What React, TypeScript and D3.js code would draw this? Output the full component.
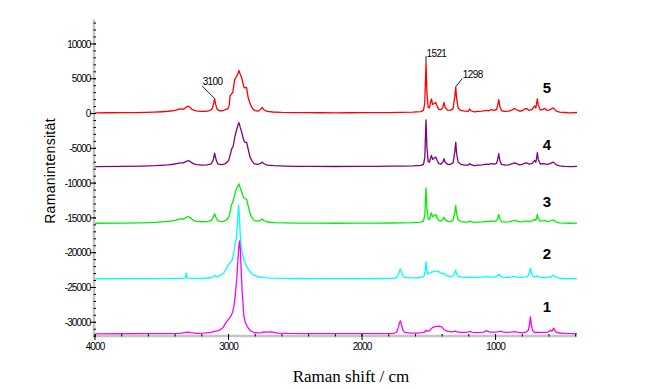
import React from 'react';
import * as d3 from 'd3';

const W = 651;
const H = 389;

const xTicksMajor = [4000, 3000, 2000, 1000];
const yTicksMajor = [-30000, -25000, -20000, -15000, -10000, -5000, 0, 5000, 10000];
const seriesNames = ['5', '4', '3', '2', '1'];
const seriesColors = ['#ff0000', '#800080', '#00f000', '#00ffff', '#ff00ff'];
const seriesOffsets = [0, -7700, -15850, -23800, -31700];

const s5: [number, number][] = [[4000,100],[3900,110],[3800,120],[3700,140],[3620,160],[3560,200],[3500,260],[3450,330],[3400,450],[3370,620],[3355,680],[3340,600],[3325,780],[3312,980],[3302,1050],[3290,900],[3270,550],[3245,380],[3210,300],[3170,320],[3140,420],[3122,700],[3112,1400],[3104,2100],[3096,1300],[3085,600],[3065,380],[3045,400],[3025,550],[3005,700],[2995,1200],[2988,2550],[2975,2900],[2968,3000],[2955,4800],[2939,5400],[2930,5700],[2922,6200],[2912,5600],[2902,5200],[2890,4200],[2883,3700],[2865,3750],[2853,2300],[2840,1500],[2832,1100],[2815,600],[2800,420],[2780,350],[2762,550],[2748,880],[2736,550],[2710,300],[2670,220],[2600,160],[2500,130],[2400,120],[2300,110],[2200,100],[2100,110],[2000,120],[1900,130],[1800,140],[1720,160],[1620,200],[1560,280],[1540,450],[1530,1500],[1521,7300],[1514,3000],[1505,900],[1495,800],[1486,1700],[1480,2100],[1472,1300],[1460,1450],[1448,1600],[1438,1100],[1425,600],[1408,550],[1395,900],[1386,1600],[1378,900],[1360,500],[1340,450],[1318,700],[1305,2500],[1298,3800],[1292,2200],[1280,800],[1260,450],[1230,350],[1205,300],[1195,650],[1185,400],[1160,250],[1130,300],[1100,350],[1070,450],[1050,400],[1031,550],[1010,450],[992,600],[982,1400],[976,2000],[968,1000],[955,400],[930,300],[900,350],[880,500],[858,700],[842,550],[820,350],[800,400],[780,650],[765,700],[750,450],[725,600],[708,1100],[698,800],[692,1500],[687,2100],[680,1200],[665,500],[645,600],[632,750],[615,450],[590,550],[572,800],[562,700],[545,350],[520,200],[480,150],[440,100],[390,150]];

const s4: [number, number][] = [[4000,80],[3800,100],[3650,140],[3550,200],[3450,320],[3400,450],[3360,600],[3340,620],[3320,800],[3302,950],[3288,820],[3265,500],[3240,350],[3200,300],[3160,330],[3130,450],[3115,1000],[3104,2000],[3095,1200],[3082,500],[3060,350],[3040,380],[3020,550],[3000,900],[2988,1700],[2977,2590],[2965,3000],[2952,4400],[2940,5300],[2930,6000],[2922,6400],[2912,5700],[2902,5100],[2890,4100],[2880,3600],[2864,3540],[2852,2500],[2840,1520],[2825,900],[2808,500],[2785,380],[2762,500],[2748,720],[2735,480],[2710,280],[2660,200],[2580,150],[2480,120],[2350,100],[2200,90],[2050,100],[1900,110],[1780,130],[1700,150],[1620,180],[1560,250],[1540,400],[1530,1400],[1521,6800],[1514,2800],[1505,800],[1495,700],[1486,1400],[1480,1680],[1472,1100],[1460,1300],[1448,1440],[1438,950],[1425,500],[1408,450],[1395,750],[1386,1200],[1378,700],[1360,400],[1340,380],[1318,600],[1305,2300],[1298,3600],[1292,2000],[1280,700],[1260,400],[1230,300],[1205,280],[1195,500],[1185,350],[1160,220],[1130,280],[1100,320],[1070,420],[1050,380],[1031,500],[1010,420],[992,550],[982,1300],[976,1930],[968,950],[955,380],[930,280],[900,330],[880,450],[858,600],[842,500],[820,330],[800,380],[780,580],[765,600],[750,420],[725,550],[708,960],[698,700],[692,1400],[687,2070],[680,1100],[665,450],[645,500],[632,450],[615,380],[590,500],[572,700],[562,650],[545,320],[520,180],[480,120],[440,80],[390,100]];

const s3: [number, number][] = [[4000,80],[3800,100],[3650,150],[3550,220],[3450,350],[3400,500],[3360,700],[3340,680],[3320,900],[3302,1050],[3288,900],[3265,520],[3240,350],[3200,300],[3160,320],[3130,450],[3115,900],[3104,1440],[3095,950],[3082,450],[3060,330],[3040,360],[3020,500],[3000,850],[2990,1500],[2980,2630],[2965,3300],[2947,4700],[2935,5300],[2922,5750],[2912,5100],[2900,4500],[2888,3800],[2875,3600],[2864,3550],[2852,2500],[2840,1540],[2825,900],[2808,500],[2785,380],[2762,480],[2748,680],[2735,450],[2710,260],[2660,180],[2580,140],[2480,110],[2350,90],[2200,80],[2050,90],[1900,100],[1780,120],[1700,140],[1620,170],[1560,230],[1540,380],[1530,1200],[1521,5170],[1514,2200],[1505,700],[1495,650],[1486,1300],[1480,1580],[1472,1000],[1460,1200],[1448,1350],[1438,850],[1425,450],[1408,400],[1395,650],[1386,960],[1378,600],[1360,350],[1340,330],[1318,500],[1305,1700],[1298,2650],[1292,1500],[1280,550],[1260,330],[1230,260],[1205,250],[1195,400],[1185,300],[1160,200],[1130,250],[1100,280],[1070,350],[1050,320],[1031,420],[1010,350],[992,450],[982,900],[976,1350],[968,700],[955,330],[930,250],[900,280],[880,380],[858,500],[842,420],[820,280],[800,300],[780,380],[765,400],[750,320],[725,420],[708,600],[698,500],[692,900],[687,1350],[680,750],[665,380],[645,420],[632,500],[615,330],[590,420],[572,550],[562,500],[545,260],[520,150],[480,100],[440,80],[390,90]];

const s2: [number, number][] = [[4000,60],[3800,70],[3600,80],[3450,100],[3350,120],[3325,150],[3320,400],[3317,900],[3313,350],[3305,140],[3250,120],[3180,130],[3130,200],[3115,350],[3104,580],[3094,350],[3080,380],[3060,550],[3040,800],[3025,1200],[3010,1770],[2995,2200],[2983,2500],[2972,2730],[2960,3900],[2948,5200],[2939,6300],[2932,8500],[2924,10630],[2916,7800],[2909,5300],[2897,3800],[2885,2730],[2865,1800],[2847,1290],[2828,850],[2810,570],[2780,350],[2760,260],[2748,280],[2730,220],[2680,150],[2600,110],[2450,90],[2300,80],[2150,75],[2000,80],[1900,90],[1800,100],[1760,130],[1740,250],[1727,700],[1718,1250],[1712,1440],[1705,1100],[1695,500],[1680,250],[1640,180],[1590,200],[1550,280],[1535,500],[1527,1200],[1521,2530],[1515,1300],[1508,750],[1495,850],[1480,1000],[1465,1080],[1448,1150],[1433,1150],[1418,950],[1400,750],[1386,800],[1375,650],[1360,450],[1340,380],[1320,420],[1308,800],[1300,1300],[1292,750],[1280,380],[1250,300],[1220,260],[1195,300],[1170,240],[1130,250],[1100,280],[1068,350],[1040,280],[1010,300],[990,400],[980,620],[976,720],[970,550],[955,330],[930,250],[900,260],[880,330],[864,400],[845,330],[820,260],[790,280],[765,340],[752,600],[745,1100],[739,1580],[733,1100],[725,500],[712,300],[700,380],[690,420],[686,480],[680,350],[660,250],[630,230],[600,280],[580,400],[570,520],[564,580],[556,400],[540,220],[510,120],[470,90],[430,80],[390,80]];

const s1: [number, number][] = [[4000,40],[3800,50],[3600,60],[3450,80],[3360,120],[3320,250],[3302,300],[3285,200],[3240,120],[3180,150],[3130,250],[3104,400],[3085,450],[3060,650],[3040,950],[3022,1580],[3005,2000],[2984,2540],[2970,3100],[2960,3960],[2950,5500],[2939,7750],[2930,10500],[2922,12800],[2917,13400],[2911,12000],[2904,8500],[2897,5900],[2885,2540],[2872,1600],[2860,1100],[2840,550],[2810,230],[2780,180],[2750,220],[2735,320],[2710,300],[2680,320],[2660,250],[2630,150],[2560,100],[2450,80],[2300,70],[2150,60],[2000,60],[1900,70],[1800,80],[1760,120],[1740,300],[1728,1000],[1719,1700],[1712,1900],[1705,1400],[1695,600],[1680,250],[1640,150],[1590,150],[1550,200],[1530,300],[1524,500],[1521,580],[1517,450],[1505,400],[1490,600],[1475,900],[1460,1050],[1440,1100],[1420,1150],[1405,1050],[1390,750],[1375,500],[1355,380],[1330,330],[1310,380],[1300,430],[1290,330],[1260,270],[1230,260],[1205,300],[1193,400],[1180,300],[1150,220],[1120,250],[1090,300],[1075,400],[1068,530],[1060,400],[1040,280],[1010,300],[985,330],[970,380],[960,420],[950,320],[920,250],[890,280],[870,330],[856,350],[840,300],[810,220],[790,230],[770,300],[755,550],[747,1200],[742,2000],[739,2490],[735,1900],[730,1100],[722,500],[710,260],[690,230],[660,240],[630,260],[610,280],[595,450],[589,580],[583,430],[575,500],[568,750],[564,860],[558,600],[548,300],[520,160],[480,100],[430,70],[390,60]];

const seriesData = [s5, s4, s3, s2, s1];

const annLabels = ['3100', '1521', '1298'];
const annWn = [3104, 1521, 1298];
const annVal = [2100, 7300, 3800];

// styling: leader line vector (px) from peak, and series label offsets
const annDx = [-12.5, 0, 6.5];
const annDy = [-12.5, -6, -8];
const labelLift = [26, 23, 22.5, 25.5, 27.5];

const x = d3.scaleLinear().domain([4000, 390]).range([95, 577]);
const y = d3.scaleLinear().domain([-32000, 13500]).range([336.2, 19.6]);

const xMinor = d3.range(4000, 389, -200);
const yMinor = d3.range(-32000, 13501, 1000);

const tickFont = '"Liberation Sans", Arial, sans-serif';

export default function App() {
  const lines = seriesData.map((data, i) =>
    d3
      .line<[number, number]>()
      .x((d) => x(d[0]))
      .y((d) => y(d[1] + seriesOffsets[i]))(data) as string
  );
  const ax = 94;
  const ay = 336;
  return (
    <svg
      width={W}
      height={H}
      style={{ position: 'absolute', left: 0, top: 0, background: '#fff' }}
    >
      <rect x={0} y={0} width={W} height={H} fill="#fff" />
      {lines.map((p, i) => (
        <path key={i} d={p} fill="none" stroke={seriesColors[i]} strokeWidth={1.3} strokeLinejoin="round" />
      ))}
      {/* axes */}
      <line x1={ax} y1={y(13500)} x2={ax} y2={ay + 1.5} stroke="#c4c4c4" strokeWidth={2.5} />
      <line x1={ax - 1} y1={ay} x2={577} y2={ay} stroke="#c4c4c4" strokeWidth={2.5} />
      {yMinor.map((v) => (
        <line key={'ym' + v} x1={ax - 0.5} x2={ax + 2} y1={y(v)} y2={y(v)} stroke="#000" strokeWidth={1} />
      ))}
      {yTicksMajor.map((v) => (
        <g key={'y' + v}>
          <line x1={ax - 4} x2={ax + 2} y1={y(v)} y2={y(v)} stroke="#000" strokeWidth={1} />
          <text
            x={ax - 3.5}
            y={y(v) + 3.6}
            textAnchor="end"
            fontFamily={tickFont}
            fontSize={10}
            letterSpacing={-0.9}
            fill="#000"
          >
            {v}
          </text>
        </g>
      ))}
      {xMinor.map((v) => (
        <line key={'xm' + v} x1={x(v)} x2={x(v)} y1={ay - 2} y2={ay + 0.5} stroke="#000" strokeWidth={1} />
      ))}
      {xTicksMajor.map((v) => (
        <g key={'x' + v}>
          <line x1={x(v)} x2={x(v)} y1={ay - 2} y2={ay + 4} stroke="#000" strokeWidth={1} />
          <text
            x={x(v)}
            y={349.5}
            textAnchor="middle"
            fontFamily={tickFont}
            fontSize={10}
            letterSpacing={-0.9}
            fill="#000"
          >
            {v}
          </text>
        </g>
      ))}
      {/* axis titles */}
      <text
        transform={`translate(55,171) rotate(-90)`}
        textAnchor="middle"
        fontFamily={tickFont}
        fontSize={14}
        letterSpacing={0.3}
        fill="#000"
      >
        Ramanintensität
      </text>
      <text
        x={351}
        y={382}
        textAnchor="middle"
        fontFamily='"Liberation Serif", "Times New Roman", serif'
        fontSize={17}
        fill="#000"
      >
        Raman shift / cm
      </text>
      {/* annotations */}
      {annLabels.map((t, i) => {
        const px = x(annWn[i]);
        const py = y(annVal[i]) - 0.5;
        const ex = px + annDx[i];
        const ey = py + annDy[i];
        return (
          <g key={'a' + t}>
            <line x1={px} y1={py} x2={ex} y2={ey} stroke="#000" strokeWidth={0.9} />
            <text
              x={ex + 0.5}
              y={ey + (i === 1 ? 1 : -0.5)}
              fontFamily={tickFont}
              fontSize={10}
              letterSpacing={-0.6}
              fill="#000"
            >
              {t}
            </text>
          </g>
        );
      })}
      {/* series labels */}
      {seriesNames.map((n, i) => (
        <text
          key={'s' + n}
          x={547}
          y={y(seriesOffsets[i]) - labelLift[i] + 5.5}
          textAnchor="middle"
          fontFamily={tickFont}
          fontSize={15}
          fontWeight="bold"
          fill="#000"
        >
          {n}
        </text>
      ))}
    </svg>
  );
}
